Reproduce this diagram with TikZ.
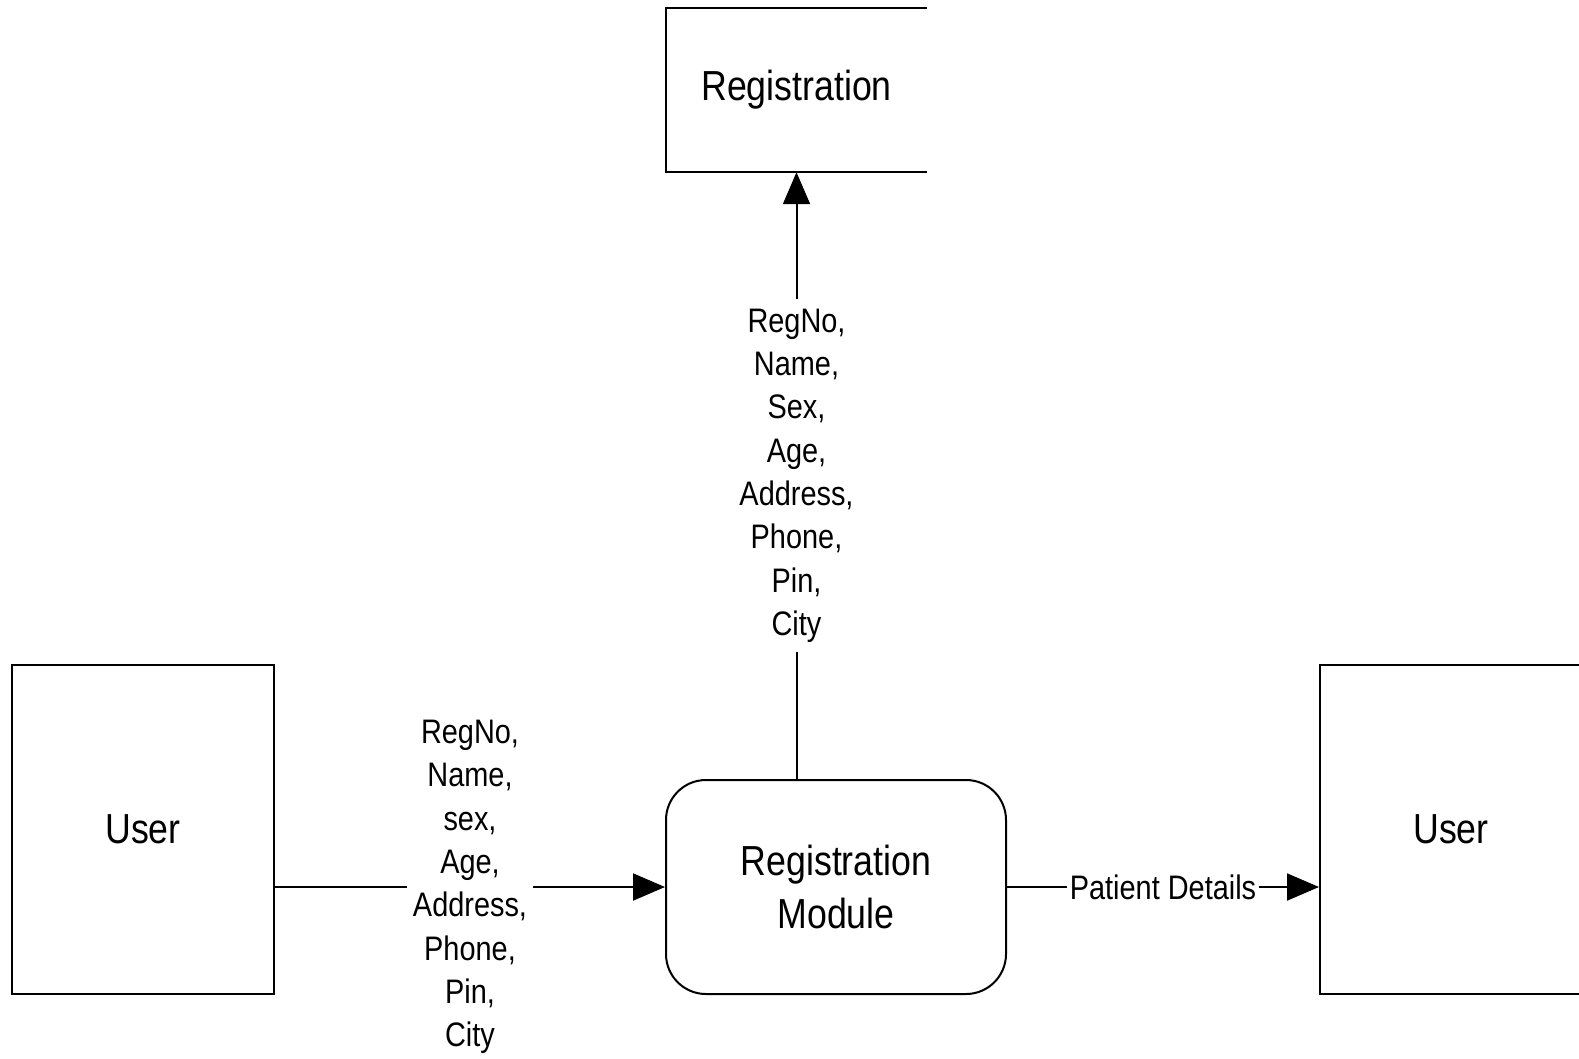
\documentclass[tikz,border=0pt]{standalone}
\usepackage{fontspec}
\setmainfont{Liberation Sans}[FakeStretch=0.85]
\usetikzlibrary{arrows.meta,positioning}

\begin{document}
\begin{tikzpicture}[x=1pt,y=-1pt]
                        \tikzstyle{entity}=[draw,line width=2pt,minimum width=262pt,minimum height=329pt,font=\fontsize{42}{53}\selectfont]
                        \tikzstyle{process}=[draw,line width=2pt,rounded corners=40pt,minimum width=340pt,minimum height=214pt,align=center,font=\fontsize{42}{53}\selectfont]
                        \tikzstyle{store}=[minimum width=261pt,minimum height=164pt,font=\fontsize{42}{53}\selectfont]
                        \tikzstyle{flow}=[line width=2pt,-{Triangle[length=32pt,width=27pt]}]
                        \tikzstyle{data}=[fill=white,align=center,inner sep=6pt,font=\fontsize{34}{43.3}\selectfont]
                        \clip (0,0) rectangle (1579,1058);
                        \node[entity] (user) at (143,829.5) {User};
                        \node[process] (module) at (836,887) {Registration\\Module};
                        \node[entity] (user2) at (1451,829.5) {User};
                        \node[store] (reg) at (796.5,90) {Registration};
                        \draw[line width=2pt] (reg.north east) -- (reg.north west) -- (reg.south west) -- (reg.south east);
                        \draw[flow] (user.east |- module.west) -- node[data] {RegNo,\\Name,\\sex,\\Age,\\Address,\\Phone,\\Pin,\\City} (module.west);
                        \draw[flow] (module.north -| reg.south) -- node[data,inner ysep=10pt] {RegNo,\\Name,\\Sex,\\Age,\\Address,\\Phone,\\Pin,\\City} (reg.south);
                        \draw[flow] (module.east) -- node[data,inner xsep=3pt] {Patient Details} (user2.west |- module.east);
                    \end{tikzpicture}
\end{document}
